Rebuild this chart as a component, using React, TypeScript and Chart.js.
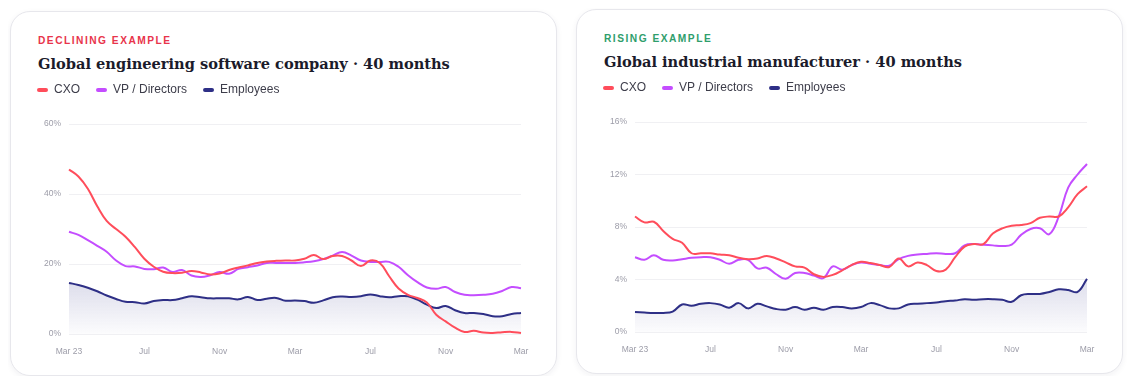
import { useEffect, useRef } from "react";
import { Chart, registerables } from "chart.js";

Chart.register(...registerables);

// Semi-monthly observation dates, Mar 2023 – Mar 2025
const PERIODS = [
  "2023-03-01", "2023-03-16", "2023-04-01", "2023-04-16", "2023-05-01", "2023-05-16",
  "2023-06-01", "2023-06-16", "2023-07-01", "2023-07-16", "2023-08-01", "2023-08-16",
  "2023-09-01", "2023-09-16", "2023-10-01", "2023-10-16", "2023-11-01", "2023-11-16",
  "2023-12-01", "2023-12-16", "2024-01-01", "2024-01-16", "2024-02-01", "2024-02-16",
  "2024-03-01", "2024-03-16", "2024-04-01", "2024-04-16", "2024-05-01", "2024-05-16",
  "2024-06-01", "2024-06-16", "2024-07-01", "2024-07-16", "2024-08-01", "2024-08-16",
  "2024-09-01", "2024-09-16", "2024-10-01", "2024-10-16", "2024-11-01", "2024-11-16",
  "2024-12-01", "2024-12-16", "2025-01-01", "2025-01-16", "2025-02-01", "2025-02-16",
  "2025-03-01",
];

// One axis label every 8 periods (4 months)
const AXIS_LABELS = ["Mar 23", "Jul", "Nov", "Mar", "Jul", "Nov", "Mar"];
const AXIS_LABEL_EVERY = 8;

const SERIES_NAMES = ["CXO", "VP / Directors", "Employees"];

// Declining: global engineering software company (%)
const DECLINE_CXO = [
  47, 45, 41.5, 36.5, 32.3, 30, 27.8, 24.8, 21.5, 19.2, 17.8, 17.4, 17.5, 18, 17.6, 17,
  17.3, 18.3, 19, 19.6, 20.3, 20.7, 20.9, 21, 21, 21.5, 22.6, 21.4, 22.3, 22.3, 21, 19.4,
  21, 20.3, 16.5, 13, 11.2, 10.3, 9, 5.5, 3.6, 1.8, 0.6, 0.9, 0.4, 0.3, 0.5, 0.6, 0.3,
];
const DECLINE_VP = [
  29.2, 28.3, 26.8, 25.2, 23.5, 21, 19.4, 19.3, 18.6, 18.5, 19, 17.7, 18.3, 16.7, 16.3,
  16.8, 17.7, 17.2, 18.6, 19.1, 19.6, 20.3, 20.3, 20.3, 20.3, 20.5, 20.8, 21.4, 22.4,
  23.4, 22.4, 21, 20.6, 20.6, 20.6, 19.2, 16.8, 14.8, 13.3, 12.9, 13.4, 12, 11.2, 11.1,
  11.2, 11.5, 12.3, 13.4, 13.1,
];
const DECLINE_EMP = [
  14.6, 14, 13.2, 12.2, 11, 10, 9.2, 9.1, 8.7, 9.4, 9.7, 9.7, 10.2, 10.8, 10.5, 10.2, 10.2,
  10.2, 9.9, 10.6, 9.7, 10.1, 10.3, 9.5, 9.6, 9.4, 8.9, 9.6, 10.5, 10.7, 10.6, 10.8, 11.3,
  10.8, 10.5, 10.8, 10.8, 9.8, 8.4, 7.4, 8, 6.8, 6, 6, 5.7, 5.1, 5.1, 5.7, 6,
];

// Rising: global industrial manufacturer (%)
const RISE_CXO = [
  8.8, 8.35, 8.4, 7.7, 7.1, 6.8, 6.0, 6.0, 6.0, 5.9, 5.85, 5.65, 5.55, 5.6, 5.8, 5.6, 5.3,
  5.0, 4.9, 4.4, 4.2, 4.35, 4.7, 5.1, 5.35, 5.25, 5.1, 4.95, 5.6, 5.0, 5.3, 5.1, 4.65, 4.75,
  5.7, 6.5, 6.7, 6.7, 7.5, 7.9, 8.1, 8.15, 8.3, 8.7, 8.8, 8.8, 9.5, 10.5, 11.1,
];
const RISE_VP = [
  5.7, 5.5, 5.85, 5.5, 5.45, 5.55, 5.65, 5.7, 5.7, 5.5, 5.2, 5.5, 5.5, 4.85, 4.9, 4.4, 4.05,
  4.5, 4.5, 4.3, 4.1, 5.0, 4.75, 5.1, 5.3, 5.2, 5.1, 5.05, 5.55, 5.8, 5.9, 5.95, 6.0, 5.95,
  6.0, 6.6, 6.7, 6.65, 6.6, 6.55, 6.65, 7.4, 7.85, 7.9, 7.45, 8.8, 11.0, 12.0, 12.8,
];
const RISE_EMP = [
  1.52, 1.48, 1.45, 1.45, 1.55, 2.1, 2.0, 2.15, 2.2, 2.1, 1.85, 2.2, 1.8, 2.15, 1.95, 1.75,
  1.7, 1.9, 1.7, 1.85, 1.7, 1.9, 1.9, 1.8, 1.9, 2.2, 2.05, 1.8, 1.8, 2.1, 2.15, 2.2, 2.25,
  2.35, 2.4, 2.5, 2.45, 2.5, 2.5, 2.45, 2.3, 2.8, 2.9, 2.9, 3.05, 3.25, 3.2, 3.05, 4.05,
];

const RED = "#ff4d5b";
const PURPLE = "#c44dff";
const NAVY = "#2e2f86";
const SERIES_COLORS = [RED, PURPLE, NAVY];
const TICK_COLOR = "#9c9ca8";
const GRID_COLOR = "#f0f0f3";
const SANS = "'Liberation Sans', Arial, sans-serif";

// Pads the legend so the plot starts a fixed distance below the canvas top
const legendSpacer = {
  id: "legendSpacer",
  beforeInit(chart: any) {
    const legend = chart.legend;
    if (!legend) return;
    const fit = legend.fit;
    legend.fit = function () {
      fit.call(this);
      this.height = 56;
    };
  },
};

type ChartProps = {
  cxo: number[];
  vp: number[];
  emp: number[];
  yMax: number;
  yStep: number;
};

function TrendChart({ cxo, vp, emp, yMax, yStep }: ChartProps) {
  const canvasRef = useRef<HTMLCanvasElement>(null);

  useEffect(() => {
    if (!canvasRef.current) return;
    const empPeak = Math.max(...emp);
    const chart = new Chart(canvasRef.current, {
      type: "line",
      data: {
        labels: PERIODS,
        datasets: [
          {
            label: SERIES_NAMES[0],
            data: cxo,
            borderColor: RED,
            backgroundColor: RED,
            borderWidth: 2,
            pointRadius: 0,
            tension: 0.4,
            fill: false,
          },
          {
            label: SERIES_NAMES[1],
            data: vp,
            borderColor: PURPLE,
            backgroundColor: PURPLE,
            borderWidth: 2,
            pointRadius: 0,
            tension: 0.4,
            fill: false,
          },
          {
            label: SERIES_NAMES[2],
            data: emp,
            borderColor: NAVY,
            borderWidth: 2,
            pointRadius: 0,
            tension: 0.4,
            fill: "origin",
            backgroundColor: (c: any) => {
              const { ctx, chartArea, scales } = c.chart;
              if (!chartArea) return "rgba(46,47,134,0.08)";
              const top = scales.y.getPixelForValue(empPeak);
              const g = ctx.createLinearGradient(0, top, 0, chartArea.bottom);
              g.addColorStop(0, "rgba(46,47,134,0.16)");
              g.addColorStop(1, "rgba(46,47,134,0.015)");
              return g;
            },
          },
        ],
      },
      options: {
        animation: false,
        responsive: true,
        maintainAspectRatio: false,
        layout: { padding: { left: 0, right: 20, top: 0, bottom: 0 } },
        plugins: {
          tooltip: { enabled: false },
          legend: {
            position: "top",
            align: "start",
            labels: {
              boxWidth: 11,
              boxHeight: 4,
              useBorderRadius: true,
              borderRadius: 2,
              padding: 16,
              color: "#3d3d4a",
              font: { family: SANS, size: 12 },
              generateLabels: (ch: any) =>
                Chart.defaults.plugins.legend.labels
                  .generateLabels(ch)
                  .map((item: any, i: number) => ({
                    ...item,
                    fillStyle: SERIES_COLORS[i],
                    strokeStyle: SERIES_COLORS[i],
                    lineWidth: 0,
                  })),
            },
          },
        },
        scales: {
          x: {
            grid: { display: false },
            border: { display: false },
            afterFit: (s: any) => {
              s.height = 20;
            },
            ticks: {
              autoSkip: false,
              maxRotation: 0,
              padding: 5,
              color: TICK_COLOR,
              font: { family: SANS, size: 8.5 },
              callback: (_v: any, i: number) =>
                i % AXIS_LABEL_EVERY === 0 ? AXIS_LABELS[i / AXIS_LABEL_EVERY] : null,
            },
          },
          y: {
            min: 0,
            max: yMax,
            grid: { color: GRID_COLOR, drawTicks: false, lineWidth: 1 },
            border: { display: false },
            afterFit: (s: any) => {
              s.width = 48;
            },
            ticks: {
              stepSize: yStep,
              padding: 8,
              color: TICK_COLOR,
              font: { family: SANS, size: 8.5 },
              callback: (v: any) => `${v}%`,
            },
          },
        },
      },
      plugins: [legendSpacer],
    });
    return () => chart.destroy();
  }, [cxo, vp, emp, yMax, yStep]);

  return (
    <div style={{ position: "absolute", left: 10, top: 56, width: 520, height: 286 }}>
      <canvas ref={canvasRef} />
    </div>
  );
}

type CardProps = {
  tag: string;
  tagColor: string;
  title: string;
  offsetY: number;
} & ChartProps;

function Card({ tag, tagColor, title, offsetY, ...chart }: CardProps) {
  return (
    <div
      style={{
        position: "relative",
        width: 547,
        height: 365,
        boxSizing: "border-box",
        marginTop: offsetY,
        border: "1px solid #e7e7ec",
        borderRadius: 20,
        background: "#fff",
        boxShadow: "0 2px 6px rgba(30,30,60,0.06)",
        flex: "none",
      }}
    >
      <div
        style={{
          position: "absolute",
          left: 27,
          top: 23,
          fontFamily: SANS,
          fontWeight: 700,
          fontSize: 10.2,
          lineHeight: "12px",
          letterSpacing: 1.5,
          color: tagColor,
          whiteSpace: "nowrap",
        }}
      >
        {tag}
      </div>
      <div
        style={{
          position: "absolute",
          left: 27,
          top: 42,
          fontFamily: "'DejaVu Serif', 'Liberation Serif', serif",
          fontWeight: 700,
          fontSize: 14.6,
          lineHeight: "20px",
          color: "#1b1b2b",
          whiteSpace: "nowrap",
        }}
      >
        {title}
      </div>
      <TrendChart {...chart} />
    </div>
  );
}

export default function App() {
  return (
    <div style={{ display: "flex", alignItems: "flex-start", gap: 19, padding: "3px 0 0 2px" }}>
      <Card
        tag="DECLINING EXAMPLE"
        tagColor="#e8344b"
        title="Global engineering software company · 40 months"
        offsetY={0}
        cxo={DECLINE_CXO}
        vp={DECLINE_VP}
        emp={DECLINE_EMP}
        yMax={60}
        yStep={20}
      />
      <Card
        tag="RISING EXAMPLE"
        tagColor="#2f9e6c"
        title="Global industrial manufacturer · 40 months"
        offsetY={-2}
        cxo={RISE_CXO}
        vp={RISE_VP}
        emp={RISE_EMP}
        yMax={16}
        yStep={4}
      />
    </div>
  );
}
